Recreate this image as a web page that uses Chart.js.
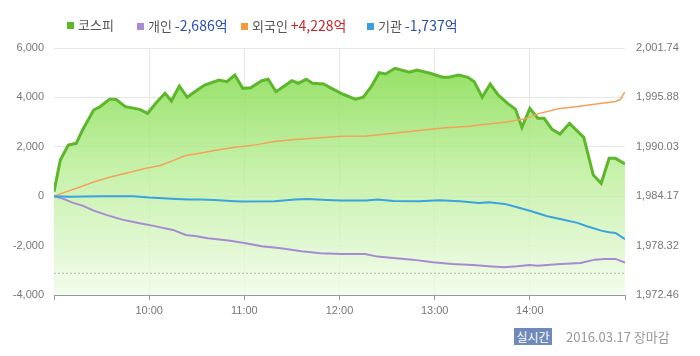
<!DOCTYPE html>
<html><head><meta charset="utf-8">
<script src="https://cdn.jsdelivr.net/npm/chart.js@4.4.1/dist/chart.umd.min.js"></script>
<style>
html,body{margin:0;padding:0;background:#fff;}
#wrap{position:relative;width:700px;height:356px;overflow:hidden;font-family:"Noto Sans CJK KR","Noto Sans",sans-serif;}
#c{position:absolute;left:0;top:0;}
.lg{position:absolute;top:17px;font-size:13px;line-height:16px;color:#555;white-space:nowrap;}
.sq{display:inline-block;width:7px;height:7px;margin-right:4px;vertical-align:1px;}
.neg{color:#2b4fb3;font-size:14px;}
.pos{color:#c4282c;font-size:14px;}
#badge{position:absolute;left:514px;top:328px;width:38px;height:17px;background:#7089bb;color:#fff;font-size:12px;line-height:17px;text-align:center;}
#date{position:absolute;left:566px;top:328px;font-size:13px;line-height:17px;color:#999;white-space:nowrap;}
</style>
</head><body>
<div id="wrap">
<canvas id="c" width="700" height="356"></canvas>
<div class="lg" style="left:67px"><span class="sq" style="background:#5cb82a"></span>코스피</div>
<div class="lg" style="left:137px"><span class="sq" style="background:#a78bd2"></span>개인 <span class="neg">-2,686억</span></div>
<div class="lg" style="left:241px"><span class="sq" style="background:#f39a3c"></span>외국인 <span class="pos">+4,228억</span></div>
<div class="lg" style="left:367px"><span class="sq" style="background:#3a9fe0"></span>기관 <span class="neg">-1,737억</span></div>
<div id="badge">실시간</div>
<div id="date">2016.03.17 장마감</div>
</div>
<script>
// minutes after 09:00
const kospiTimes = [0,4,9,14,18,25,29,35,39,45,54,59,65,70,74,79,84,91,95,104,109,114,119,124,131,135,140,150,154,159,163,170,175,181,185,190,195,200,205,209,215,224,229,237,245,249,255,261,265,270,275,280,286,291,295,300,305,309,314,319,325,334,340,345,350,354,360];
const kospiValues = [1984.71,1988.46,1990.24,1990.44,1992.02,1994.39,1994.78,1995.66,1995.66,1994.78,1994.47,1994.00,1995.37,1996.37,1995.46,1997.23,1995.90,1996.84,1997.35,1997.95,1997.74,1998.54,1996.96,1997.03,1997.86,1998.03,1996.56,1997.86,1997.56,1998.03,1997.56,1997.47,1996.96,1996.37,1996.05,1995.66,1995.90,1997.15,1998.81,1998.66,1999.33,1998.86,1999.13,1998.74,1998.27,1998.27,1998.54,1998.27,1997.74,1995.90,1997.47,1996.17,1995.18,1994.47,1992.34,1994.59,1993.41,1993.41,1992.10,1991.54,1992.81,1991.15,1986.68,1985.70,1988.66,1988.66,1987.99];
const prevClose = 1975.04;

const foreignTimes = [0,7,16,26,35,48,58,67,75,83,92,101,114,127,139,152,164,181,197,214,230,247,260,275,284,297,305,318,330,343,354,357,360];
const foreignValues = [0,165,365,592,770,972,1134,1240,1442,1645,1742,1847,1985,2078,2212,2293,2349,2430,2440,2552,2657,2767,2819,2929,2997,3131,3334,3536,3629,3739,3832,3913,4228];

const instTimes = [0,10,29,50,60,77,85,92,101,114,120,139,152,160,172,181,197,204,214,230,243,256,268,274,284,292,301,311,322,330,336,345,350,354,360];
const instValues = [0,-20,0,0,-57,-109,-138,-138,-150,-203,-219,-203,-138,-109,-150,-178,-178,-138,-190,-203,-162,-203,-271,-243,-312,-446,-608,-810,-960,-1081,-1215,-1393,-1458,-1486,-1737];

const indivTimes = [0,6,12,18,25,33,43,54,62,75,83,90,97,110,120,131,143,156,168,181,196,204,214,226,239,251,264,274,284,292,300,305,317,332,341,347,354,360];
const indivValues = [0,-109,-271,-381,-583,-757,-948,-1094,-1191,-1365,-1567,-1620,-1701,-1798,-1891,-2025,-2106,-2228,-2309,-2337,-2337,-2446,-2499,-2568,-2673,-2742,-2782,-2835,-2876,-2835,-2782,-2811,-2754,-2701,-2568,-2539,-2539,-2686];

const leftTicks = [-4000,-2000,0,2000,4000,6000];
const rightTicks = [1972.46,1978.32,1984.17,1990.03,1995.88,2001.74];
const timeTicks = [0,60,120,180,240,300,360];

const pts = (t, v) => t.map((x, i) => ({x: x, y: v[i]}));

function greenFill(ctx) {
  const ch = ctx.chart, a = ch.chartArea;
  if (!a) return 'rgba(150,220,100,0.6)';
  const g = ch.ctx.createLinearGradient(0, a.top, 0, a.bottom);
  g.addColorStop(0, 'rgba(120,215,60,0.85)');
  g.addColorStop(0.5, 'rgba(185,238,150,0.8)');
  g.addColorStop(1, 'rgba(240,251,232,0.8)');
  return g;
}

new Chart(document.getElementById('c'), {
  type: 'line',
  data: {
    datasets: [
      {label:'코스피', data: pts(kospiTimes, kospiValues), yAxisID:'yR', borderColor:'#5cb82a', borderWidth:3, backgroundColor: greenFill, fill:'start', pointRadius:0, tension:0, order:10},
      {label:'전일', data: [{x:0,y:prevClose},{x:360,y:prevClose}], yAxisID:'yR', borderColor:'#b8b8b8', borderWidth:1, borderDash:[2,2], pointRadius:0, fill:false, order:9},
      {label:'개인', data: pts(indivTimes, indivValues), yAxisID:'yL', borderColor:'#a78bd2', borderWidth:2, pointRadius:0, fill:false, tension:0, order:3},
      {label:'외국인', data: pts(foreignTimes, foreignValues), yAxisID:'yL', borderColor:'#f3a25a', borderWidth:1.5, pointRadius:0, fill:false, tension:0, order:2},
      {label:'기관', data: pts(instTimes, instValues), yAxisID:'yL', borderColor:'#3aa3de', borderWidth:2, pointRadius:0, fill:false, tension:0, order:1}
    ]
  },
  options: {
    responsive:false, animation:false, devicePixelRatio:1,
    layout:{padding:{top:48,bottom:0,left:0,right:0}},
    plugins:{legend:{display:false}, tooltip:{enabled:false}},
    scales:{
      x:{type:'linear', min:0, max:360,
        afterBuildTicks: s => { s.ticks = timeTicks.map(v => ({value:v})); },
        afterFit: s => { s.height = 61; },
        ticks:{padding:4, color:'#777', font:{family:'"Liberation Sans", Arial', size:11},
          callback: v => (v === 0 || v === 360) ? '' : (9 + v/60) + ':00'},
        grid:{color: c => (c.tick && (c.tick.value === 0 || c.tick.value === 360)) ? 'rgba(0,0,0,0)' : '#e6e6e6',
          tickColor:'#999', tickLength:5, drawTicks:true},
        border:{color:'#999', width:1}
      },
      yL:{position:'left', min:-4000, max:6000,
        afterBuildTicks: s => { s.ticks = leftTicks.map(v => ({value:v})); },
        afterFit: s => { s.width = 54; },
        ticks:{padding:10, color:'#777', font:{family:'"Liberation Sans", Arial', size:11},
          callback: v => v.toLocaleString('en-US')},
        grid:{color: c => (c.tick && c.tick.value === -4000) ? 'rgba(0,0,0,0)' : '#e6e6e6', drawTicks:false},
        border:{display:false}
      },
      yR:{position:'right', min:1972.46, max:2001.74,
        afterBuildTicks: s => { s.ticks = rightTicks.map(v => ({value:v})); },
        afterFit: s => { s.width = 75; },
        ticks:{padding:11, color:'#777', font:{family:'"Liberation Sans", Arial', size:11},
          callback: v => v.toLocaleString('en-US', {minimumFractionDigits:2, maximumFractionDigits:2})},
        grid:{display:false, drawTicks:false},
        border:{display:false}
      }
    }
  }
});
</script>
</body></html>
